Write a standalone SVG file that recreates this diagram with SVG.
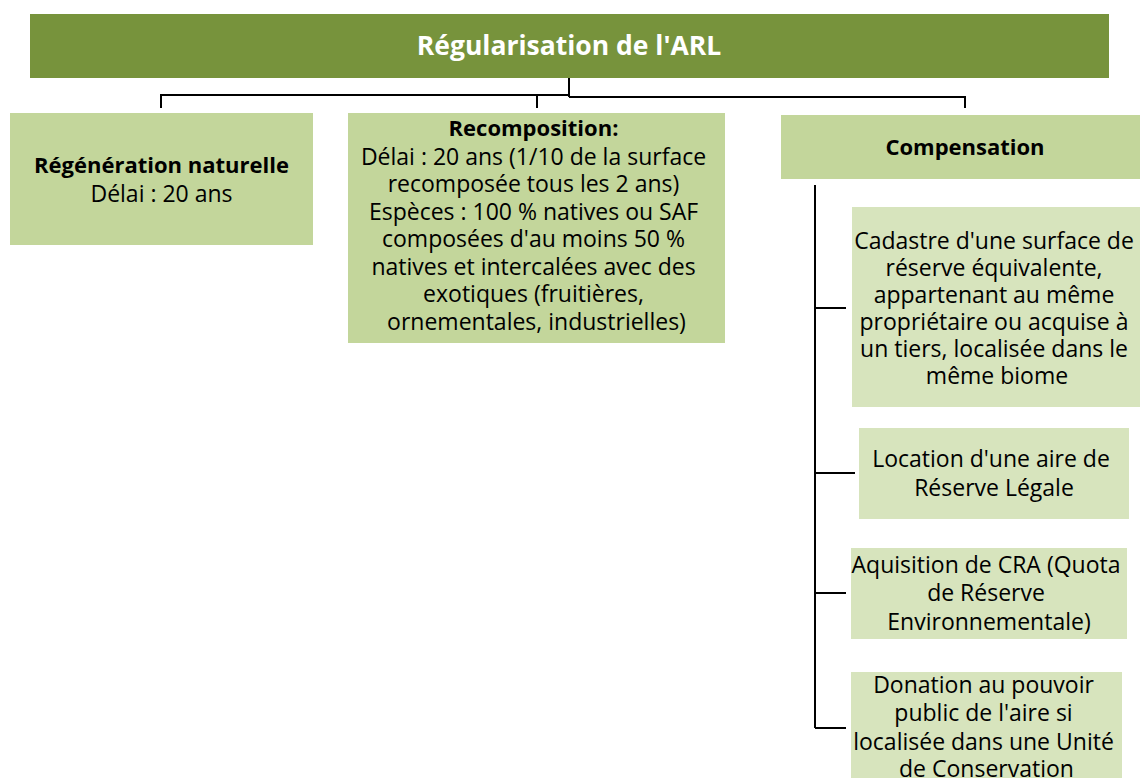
<svg xmlns="http://www.w3.org/2000/svg" width="1140" height="778" viewBox="0 0 1140 778">
<style>
.t{font-family:"Open Sans","Noto Sans","Liberation Sans",sans-serif;font-size:23px;fill:#000;text-anchor:middle}
.b{font-weight:bold;font-size:22px}
.main{fill:#77933C}
.l1{fill:#C3D69B}
.l2{fill:#D7E4BD}
.c{stroke:#000;stroke-width:2;fill:none}
</style>
<rect width="1140" height="778" fill="#fff"/>
<g id="connectors">
<path class="c" d="M569 78V97M161 108V95H569M569 97H965V108M537 95V108"/>
<path class="c" d="M815 185V728M815 308H846M815 473H855M815 593H846M815 728H846"/>
</g>
<g id="title">
<rect class="main" x="30" y="14" width="1079" height="64"/>
<text class="t" x="569" y="55" style="fill:#fff;font-size:26.5px;font-weight:bold">Régularisation de l'ARL</text>
</g>
<g id="regeneration">
<rect class="l1" x="10" y="113" width="303" height="132"/>
<text class="t b" x="161.5" y="173">Régénération naturelle</text>
<text class="t" x="161.5" y="202">Délai : 20 ans</text>
</g>
<g id="recomposition">
<rect class="l1" x="348" y="113" width="377" height="230"/>
<text class="t" x="536.5">
<tspan class="b" x="536.5" y="136">Recomposition:</tspan>
<tspan x="536.5" y="164.5">Délai : 20 ans (1/10 de la surface</tspan>
<tspan x="536.5" y="192">recomposée tous les 2 ans)</tspan>
<tspan x="536.5" y="219.5">Espèces : 100 % natives ou SAF</tspan>
<tspan x="536.5" y="247">composées d'au moins 50 %</tspan>
<tspan x="536.5" y="274.5">natives et intercalées avec des</tspan>
<tspan x="536.5" y="302">exotiques (fruitières,</tspan>
<tspan x="536.5" y="329.5">ornementales, industrielles)</tspan>
</text>
</g>
<g id="compensation">
<rect class="l1" x="781" y="115" width="368" height="64"/>
<text class="t b" x="965" y="155">Compensation</text>
</g>
<g id="cadastre">
<rect class="l2" x="852" y="207" width="290" height="200"/>
<text class="t">
<tspan x="997" y="249">Cadastre d'une surface de</tspan>
<tspan x="997" y="276">réserve équivalente,</tspan>
<tspan x="997" y="303">appartenant au même</tspan>
<tspan x="997" y="330">propriétaire ou acquise à</tspan>
<tspan x="997" y="357">un tiers, localisée dans le</tspan>
<tspan x="997" y="384">même biome</tspan>
</text>
</g>
<g id="location">
<rect class="l2" x="859" y="428" width="270" height="91"/>
<text class="t">
<tspan x="994" y="467">Location d'une aire de</tspan>
<tspan x="994" y="496">Réserve Légale</tspan>
</text>
</g>
<g id="aquisition">
<rect class="l2" x="851" y="548" width="276" height="91"/>
<text class="t">
<tspan x="989" y="573">Aquisition de CRA (Quota</tspan>
<tspan x="989" y="601">de Réserve</tspan>
<tspan x="989" y="630">Environnementale)</tspan>
</text>
</g>
<g id="donation">
<rect class="l2" x="851" y="672" width="271" height="120"/>
<text class="t">
<tspan x="986.5" y="693">Donation au pouvoir</tspan>
<tspan x="986.5" y="721">public de l'aire si</tspan>
<tspan x="986.5" y="750">localisée dans une Unité</tspan>
<tspan x="986.5" y="777">de Conservation</tspan>
</text>
</g>
</svg>
